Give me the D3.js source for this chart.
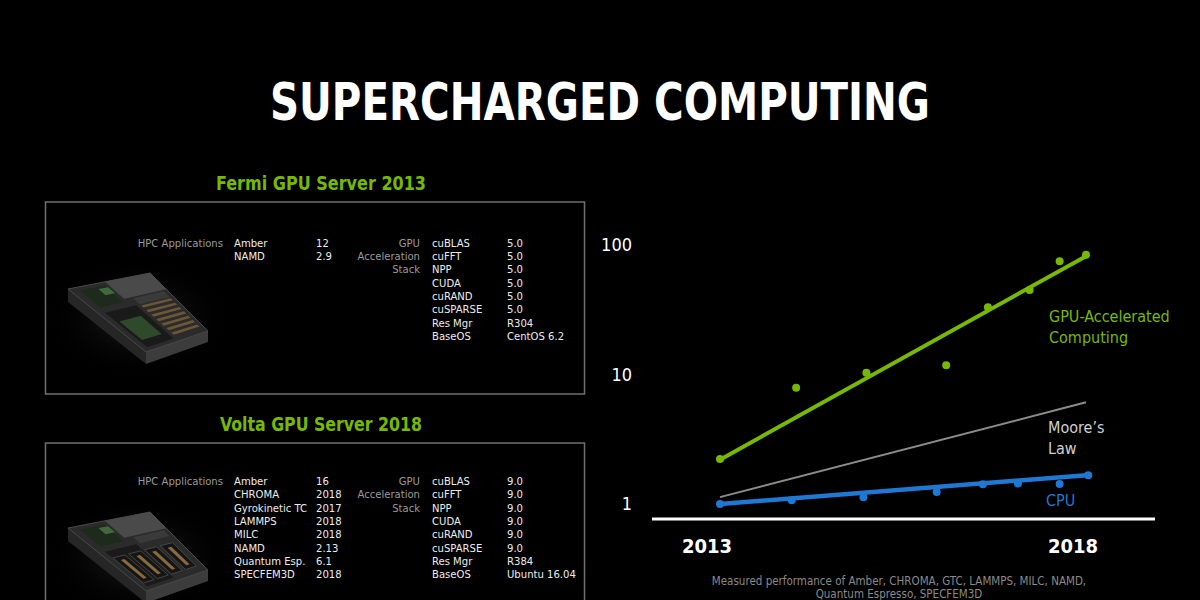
<!DOCTYPE html>
<html>
<head>
<meta charset="utf-8">
<script src="https://cdn.jsdelivr.net/npm/d3@7"></script>
<style>
  html, body { margin:0; padding:0; background:#000; }
  svg { display:block; }
  text { font-family: "DejaVu Sans Condensed", "DejaVu Sans", sans-serif; font-stretch: condensed; }
</style>
</head>
<body>
<script>
// ---------------- DATA ----------------
const title = "SUPERCHARGED COMPUTING";
const fermiTitle = "Fermi GPU Server 2013";
const voltaTitle = "Volta GPU Server 2018";
const stackLabels = ["GPU", "Acceleration", "Stack"];
const appsLabel = "HPC Applications";

const fermiApps = ["Amber", "NAMD"];
const fermiAppVersions = ["12", "2.9"];
const fermiStack = ["cuBLAS", "cuFFT", "NPP", "CUDA", "cuRAND", "cuSPARSE", "Res Mgr", "BaseOS"];
const fermiStackVersions = ["5.0", "5.0", "5.0", "5.0", "5.0", "5.0", "R304", "CentOS 6.2"];

const voltaApps = ["Amber", "CHROMA", "Gyrokinetic TC", "LAMMPS", "MILC", "NAMD", "Quantum Esp.", "SPECFEM3D"];
const voltaAppVersions = ["16", "2018", "2017", "2018", "2018", "2.13", "6.1", "2018"];
const voltaStack = ["cuBLAS", "cuFFT", "NPP", "CUDA", "cuRAND", "cuSPARSE", "Res Mgr", "BaseOS"];
const voltaStackVersions = ["9.0", "9.0", "9.0", "9.0", "9.0", "9.0", "R384", "Ubuntu 16.04"];

const yTicks = [1, 10, 100];
const xTicks = [2013, 2018];

// measured points (year, relative performance)
const gpuYears  = [2013, 2014.04, 2015, 2016.09, 2016.66, 2017.23, 2017.64, 2018];
const gpuValues = [2.23, 7.9, 10.3, 11.8, 33, 45, 75, 84];
const cpuYears  = [2013, 2013.98, 2014.96, 2015.96, 2016.59, 2017.07, 2017.64, 2018.03];
const cpuValues = [1.0, 1.07, 1.13, 1.24, 1.42, 1.44, 1.43, 1.67];

// trend lines (start/end)
const trendYears = [2013, 2018];
const gpuTrend   = [2.2, 82];
const mooreTrend = [1.13, 6.1];
const cpuTrend   = [1.0, 1.67];

const gpuLabel = ["GPU-Accelerated", "Computing"];
const mooreLabel = ["Moore\u2019s", "Law"];
const cpuLabel = ["CPU"];
const footnote = ["Measured performance of Amber, CHROMA, GTC, LAMMPS, MILC, NAMD,", "Quantum Espresso, SPECFEM3D"];

// ---------------- STYLE ----------------
const GREEN = "#76b900", BLUE = "#1f78d2", GREY = "#9a9a9a";

const svg = d3.select("body").append("svg").attr("width", 1200).attr("height", 600);
svg.append("rect").attr("width", 1200).attr("height", 600).attr("fill", "#000");

// Title
svg.append("text").attr("x", 600).attr("y", 120).attr("text-anchor", "middle")
  .attr("fill", "#fff").attr("font-size", 51).attr("font-weight", "bold")
  .attr("textLength", 660).attr("lengthAdjust", "spacingAndGlyphs").text(title);

// ---------------- LEFT PANELS ----------------
const defs = svg.append("defs");
const glow = defs.append("radialGradient").attr("id", "glow");
glow.append("stop").attr("offset", "0%").attr("stop-color", "#3a3a3a").attr("stop-opacity", 0.55);
glow.append("stop").attr("offset", "100%").attr("stop-color", "#000").attr("stop-opacity", 0);

function bilinear(P, u, v) {
  const x = (1-u)*(1-v)*P[0][0] + u*(1-v)*P[1][0] + u*v*P[2][0] + (1-u)*v*P[3][0];
  const y = (1-u)*(1-v)*P[0][1] + u*(1-v)*P[1][1] + u*v*P[2][1] + (1-u)*v*P[3][1];
  return [x, y];
}
function drawServer(g, dy, volta) {
  const P = [[68, 289+dy], [150, 273+dy], [208, 331+dy], [146, 352+dy]];
  const quad = (u0, v0, u1, v1) => [bilinear(P,u0,v0), bilinear(P,u1,v0), bilinear(P,u1,v1), bilinear(P,u0,v1)]
      .map(p => p.join(",")).join(" ");
  g.append("ellipse").attr("cx", 138).attr("cy", 318+dy).attr("rx", 95).attr("ry", 60).attr("fill", "url(#glow)");
  g.append("polygon").attr("points", [[68,289+dy],[146,352+dy],[146,364+dy],[68,302+dy]].map(p=>p.join(",")).join(" "))
    .attr("fill", "#262626");
  g.append("polygon").attr("points", [[146,352+dy],[208,331+dy],[208,342+dy],[146,364+dy]].map(p=>p.join(",")).join(" "))
    .attr("fill", "#3c3c3c");
  g.append("polygon").attr("points", quad(0,0,1,1)).attr("fill", "#2b2b2b").attr("stroke", "#4a4a4a").attr("stroke-width", 1);
  g.append("polygon").attr("points", quad(0.45,0,1,0.28)).attr("fill", "#4a4a4a");
  g.append("polygon").attr("points", quad(0.1,0.05,0.4,0.32)).attr("fill", "#1e2a1c");
  g.append("polygon").attr("points", quad(0.3,0.08,0.42,0.18)).attr("fill", "#3f6a3a");
  g.append("polygon").attr("points", quad(0.08,0.4,0.5,0.95)).attr("fill", "#1a1a1a");
  if (!volta) {
    g.append("polygon").attr("points", quad(0.12,0.55,0.42,0.85)).attr("fill", "#2f4a2a");
    for (let i = 0; i < 7; i++) {
      const v0 = 0.42 + i*0.075;
      g.append("polygon").attr("points", quad(0.55, v0, 0.95, v0+0.035)).attr("fill", "#6b5636");
    }
  } else {
    for (let i = 0; i < 4; i++) {
      const u0 = 0.08 + i*0.22;
      g.append("polygon").attr("points", quad(u0, 0.5, u0+0.17, 0.9)).attr("fill", "#151515").attr("stroke", "#444");
      g.append("polygon").attr("points", quad(u0+0.06, 0.55, u0+0.11, 0.85)).attr("fill", "#8a6a3c");
    }
  }
  g.append("polygon").attr("points", quad(0.55,0.3,0.95,0.4)).attr("fill", "#3a3a3a");
}

function panel(opt) {
  const g = svg.append("g");
  g.append("text").attr("x", 321).attr("y", opt.titleY).attr("text-anchor", "middle")
    .attr("fill", GREEN).attr("font-size", 20).attr("font-weight", "bold")
    .attr("textLength", opt.titleW).attr("lengthAdjust", "spacingAndGlyphs").text(opt.title);
  g.append("rect").attr("x", 45.5).attr("y", opt.boxY).attr("width", 539).attr("height", opt.boxH)
    .attr("fill", "none").attr("stroke", "#707070").attr("stroke-width", 1.5);
  drawServer(g, opt.dy, opt.volta);

  const rowY = i => opt.row0 + 4 + i * 13.33;
  const fs = 11.2;
  g.append("text").attr("x", 223).attr("y", rowY(0)).attr("text-anchor", "end")
    .attr("fill", GREY).attr("font-size", fs).text(appsLabel);
  g.selectAll(null).data(opt.apps).join("text")
    .attr("x", 234).attr("y", (d, i) => rowY(i)).attr("fill", "#ececec").attr("font-size", fs).text(d => d);
  g.selectAll(null).data(opt.appV).join("text")
    .attr("x", 316).attr("y", (d, i) => rowY(i)).attr("fill", "#ececec").attr("font-size", fs).text(d => d);
  g.selectAll(null).data(stackLabels).join("text")
    .attr("x", 420).attr("y", (d, i) => rowY(i)).attr("text-anchor", "end")
    .attr("fill", GREY).attr("font-size", fs).text(d => d);
  g.selectAll(null).data(opt.stack).join("text")
    .attr("x", 432).attr("y", (d, i) => rowY(i)).attr("fill", "#ececec").attr("font-size", fs).text(d => d);
  g.selectAll(null).data(opt.stackV).join("text")
    .attr("x", 507).attr("y", (d, i) => rowY(i)).attr("fill", "#ececec").attr("font-size", fs).text(d => d);
}

panel({ title: fermiTitle, titleY: 190, titleW: 210, boxY: 202, boxH: 192, dy: 0, volta: false,
        row0: 242.7, apps: fermiApps, appV: fermiAppVersions, stack: fermiStack, stackV: fermiStackVersions });
panel({ title: voltaTitle, titleY: 431, titleW: 202, boxY: 443, boxH: 200, dy: 239, volta: true,
        row0: 481, apps: voltaApps, appV: voltaAppVersions, stack: voltaStack, stackV: voltaStackVersions });

// ---------------- CHART ----------------
const x = d3.scaleLinear().domain([2013, 2018]).range([720, 1086]);
const y = d3.scaleLog().domain([1, 100]).range([504, 245]);

const chart = svg.append("g");

chart.append("line").attr("x1", 652).attr("x2", 1155).attr("y1", 519).attr("y2", 519)
  .attr("stroke", "#fff").attr("stroke-width", 3);

chart.selectAll(".yt").data(yTicks).join("text").attr("class", "yt")
  .attr("x", 632).attr("y", d => y(d) + 6).attr("text-anchor", "end")
  .attr("fill", "#fff").attr("font-size", 18).text(d => d3.format("d")(d));

chart.selectAll(".xt").data(xTicks).join("text").attr("class", "xt")
  .attr("x", d => x(d) - 13).attr("y", 553).attr("text-anchor", "middle")
  .attr("fill", "#fff").attr("font-size", 20).attr("font-weight", "bold").text(d => d);

const line = d3.line().x(d => x(d[0])).y(d => y(d[1]));

chart.append("path").datum(d3.zip(trendYears, mooreTrend)).attr("d", line)
  .attr("fill", "none").attr("stroke", "#8c8c8c").attr("stroke-width", 2);

chart.append("path").datum(d3.zip(trendYears, gpuTrend)).attr("d", line)
  .attr("fill", "none").attr("stroke", GREEN).attr("stroke-width", 4);
chart.selectAll(".gp").data(d3.zip(gpuYears, gpuValues)).join("circle").attr("class", "gp")
  .attr("cx", d => x(d[0])).attr("cy", d => y(d[1])).attr("r", 4).attr("fill", GREEN);

chart.append("path").datum(d3.zip(trendYears, cpuTrend)).attr("d", line)
  .attr("fill", "none").attr("stroke", BLUE).attr("stroke-width", 4.5);
chart.selectAll(".cp").data(d3.zip(cpuYears, cpuValues)).join("circle").attr("class", "cp")
  .attr("cx", d => x(d[0])).attr("cy", d => y(d[1])).attr("r", 4).attr("fill", BLUE);

function label(lines, x0, y0, color) {
  chart.selectAll(null).data(lines).join("text")
    .attr("x", x0).attr("y", (d, i) => y0 + i * 20.5)
    .attr("fill", color).attr("font-size", 16).text(d => d);
}
label(gpuLabel, 1049, 322, GREEN);
label(mooreLabel, 1048, 433, "#d0d0d0");
label(cpuLabel, 1046, 506, BLUE);

svg.selectAll(".fn").data(footnote).join("text").attr("class", "fn")
  .attr("x", 899).attr("y", (d, i) => 585 + i * 12.5).attr("text-anchor", "middle")
  .attr("fill", "#8a8a8a").attr("font-size", 11.5).text(d => d);
</script>
</body>
</html>
